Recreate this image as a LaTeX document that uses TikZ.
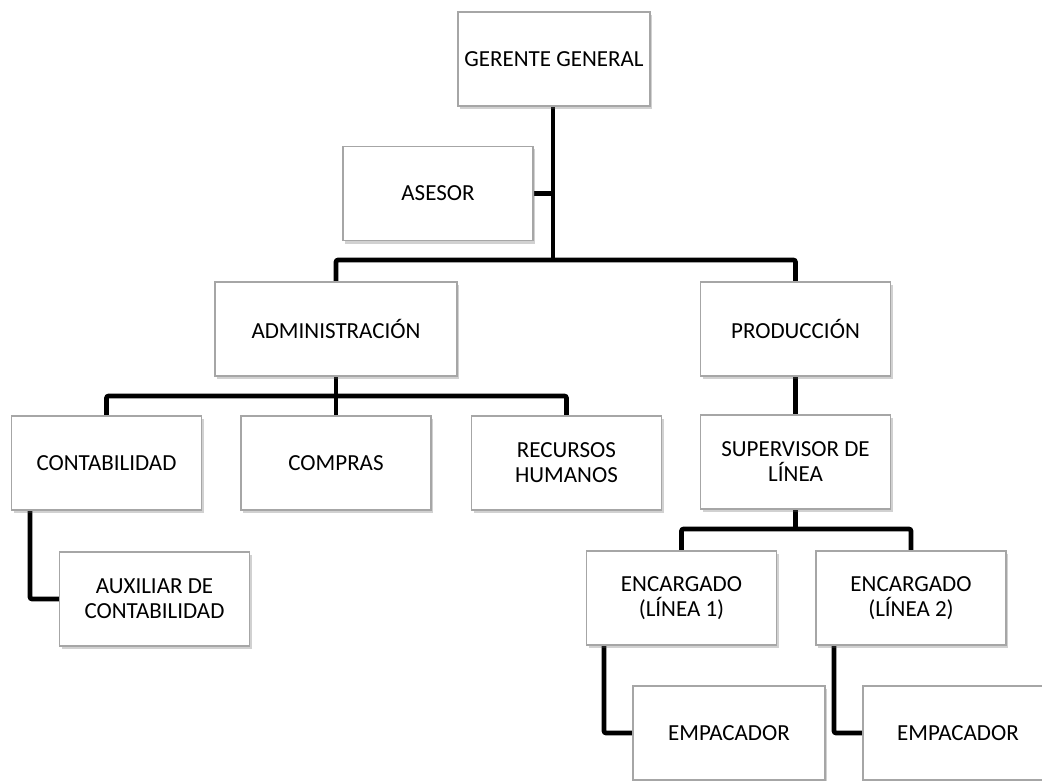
\documentclass[tikz,border=0pt]{standalone}
\usepackage{fontspec}
\setmainfont{Carlito}
\usetikzlibrary{shadows,backgrounds}
\begin{document}
\begin{tikzpicture}[x=1pt,y=-1pt,
  unit/.style={draw=black!35,line width=1.3pt,fill=white,
    minimum width=190pt,minimum height=94pt,inner sep=2pt,
    align=center,font=\fontsize{23}{25}\selectfont,
    drop shadow={shadow xshift=2pt,shadow yshift=-3pt,opacity=0.3,fill=black!60}},
  link/.style={line width=4.6pt,black,rounded corners=2pt}]
\useasboundingbox (0,0) rectangle (1042,781);
% boxes
\node[unit,minimum width=192pt] (gg) at (554,59) {GERENTE GENERAL};
\node[unit] (as) at (438,193.5) {ASESOR};
\node[unit,minimum width=242pt] (ad) at (336,329) {ADMINISTRACIÓN};
\node[unit] (pr) at (795.5,329) {PRODUCCIÓN};
\node[unit] (co) at (106.5,463) {CONTABILIDAD};
\node[unit] (cm) at (336,463) {COMPRAS};
\node[unit] (rh) at (566.5,463) {RECURSOS\\HUMANOS};
\node[unit] (su) at (795.5,462) {SUPERVISOR DE\\LÍNEA};
\node[unit] (ax) at (154.5,599) {AUXILIAR DE\\CONTABILIDAD};
\node[unit] (e1) at (681.5,598) {ENCARGADO\\(LÍNEA 1)};
\node[unit] (e2) at (911,598) {ENCARGADO\\(LÍNEA 2)};
\node[unit,minimum width=192pt] (p1) at (729,733) {EMPACADOR};
\node[unit] (p2) at (958,733) {EMPACADOR};
% junction points of the connector lines
\coordinate (b1) at (553,260);
\coordinate (b2) at (336,396);
\coordinate (b3) at (795.5,529);
\begin{scope}[on background layer]
  \draw[link] (gg.south -| b1) -- (b1);
  \draw[link] (as.east) -- (as.east -| b1);
  \draw[link] (ad.north) |- (b1) -| (pr.north);
  \draw[link] (ad.south) -- (cm.north);
  \draw[link] (co.north) |- (b2) -| (rh.north);
  \draw[link] (co.south -| 30,0) |- (ax.west);
  \draw[link] (pr.south) -- (su.north);
  \draw[link] (su.south) -- (b3);
  \draw[link] (e1.north) |- (b3) -| (e2.north);
  \draw[link] (e1.south -| 604,0) |- (p1.west);
  \draw[link] (e2.south -| 834,0) |- (p2.west);
\end{scope}
\end{tikzpicture}
\end{document}
